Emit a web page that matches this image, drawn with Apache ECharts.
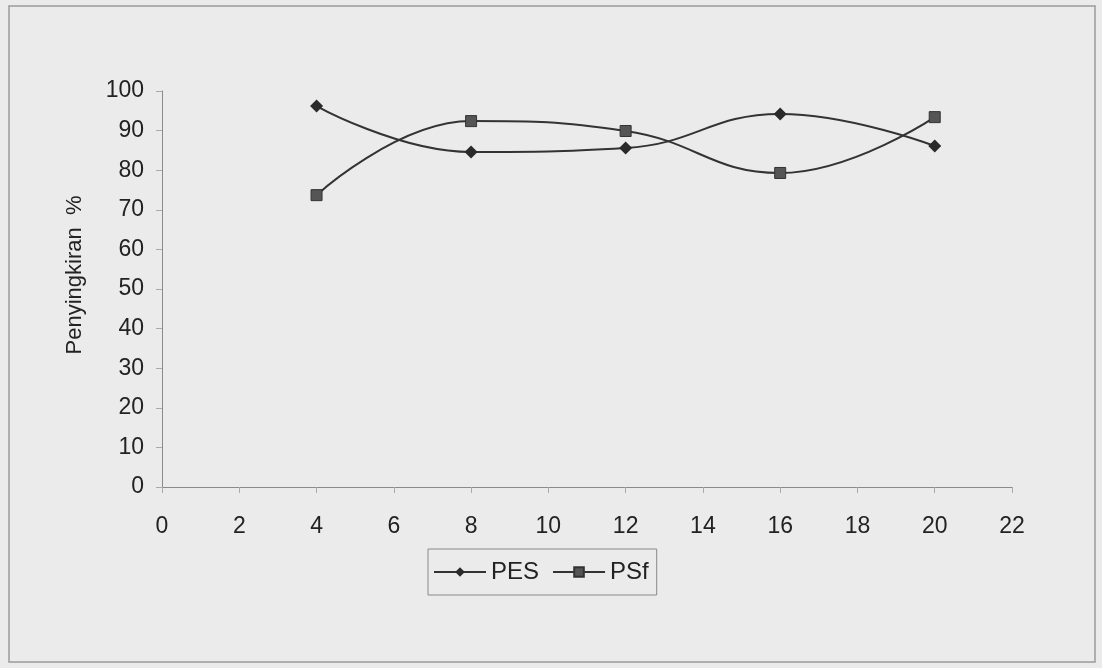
<!DOCTYPE html>
<html><head><meta charset="utf-8">
<script src="https://cdn.jsdelivr.net/npm/echarts@6/dist/echarts.min.js"></script>
<style>html,body{margin:0;padding:0;background:#ebebeb}#c{width:1102px;height:668px}</style>
</head><body><div id="c"></div>
<script>
const xValues = [4, 8, 12, 16, 20];
const pesValues = [96.2, 84.6, 85.6, 94.2, 86.1];
const psfValues = [73.7, 92.4, 89.9, 79.3, 93.4];
const seriesNames = ['PES', 'PSf'];
const yAxisTitle = 'Penyingkiran  %';

const chart = echarts.init(document.getElementById('c'));
const font = 'Liberation Sans, Arial, sans-serif';
chart.setOption({
  backgroundColor: '#ebebeb',
  animation: false,
  graphic: [{type:'rect', shape:{x:9,y:6,width:1086,height:656}, style:{fill:'none', stroke:'#9a9a9a', lineWidth:1.5}, silent:true}],
  grid: {left:162, right:90, top:91, bottom:181},
  xAxis: {type:'value', min:0, max:22, interval:2,
    axisLine:{lineStyle:{color:'#8a8a8a', width:1}},
    axisTick:{show:true, length:6, lineStyle:{color:'#aaa'}},
    axisLabel:{color:'#222', fontSize:23, fontFamily:font, margin:28},
    splitLine:{show:false}},
  yAxis: {type:'value', min:0, max:100, interval:10,
    name: yAxisTitle, nameLocation:'middle', nameGap:76, nameRotate:90,
    nameTextStyle:{color:'#222', fontSize:22, fontFamily:font, padding:[0,0,0,28]},
    axisLine:{show:true, lineStyle:{color:'#8a8a8a', width:1}},
    axisTick:{show:true, length:6, inside:false, lineStyle:{color:'#aaa'}},
    axisLabel:{color:'#222', fontSize:23, fontFamily:font, margin:18},
    splitLine:{show:false}},
  legend: {left:428, top:549, itemGap:13, padding:[11,8,11,5], borderColor:'#888', borderWidth:1,
    backgroundColor:'#ebebeb', itemWidth:52, itemHeight:12,
    textStyle:{color:'#222', fontSize:24, fontFamily:font}, data: seriesNames},
  series: [
    {name:seriesNames[0], type:'line', smooth:0.45, data: xValues.map((x,i)=>[x,pesValues[i]]),
      symbol:'diamond', symbolSize:13, lineStyle:{color:'#333', width:2}, itemStyle:{color:'#2a2a2a'}},
    {name:seriesNames[1], type:'line', smooth:0.45, data: xValues.map((x,i)=>[x,psfValues[i]]),
      symbol:'rect', symbolSize:11, lineStyle:{color:'#333', width:2}, itemStyle:{color:'#555', borderColor:'#333', borderWidth:1}}
  ]
});
</script></body></html>
